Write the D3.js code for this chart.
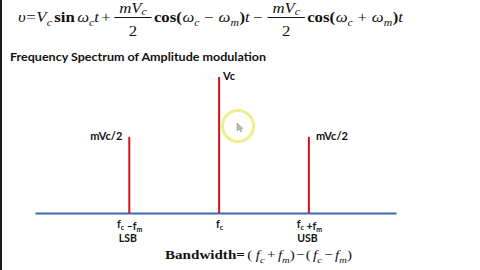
<!DOCTYPE html>
<html>
<head>
<meta charset="utf-8">
<script src="https://cdn.jsdelivr.net/npm/d3@7"></script>
<style>
  body { margin: 0; background: #fff; }
  svg { display: block; }
</style>
</head>
<body>
<svg id="chart" width="480" height="270"></svg>
<script>
// Spectrum data: offset from carrier (in units of fm) and relative amplitude (Vc = 1)
const freqs = [-1, 0, 1];
const amps = [0.56, 1, 0.56];
const ampLabels = ["mVc/2", "Vc", "mVc/2"];
// tick labels, "_x" marks a one-letter subscript
const tickLabels = ["f_c \u2013f_m", "f_c", "f_c +f_m"];
const bandLabels = ["LSB", "", "USB"];
const titleText = "Frequency Spectrum of Amplitude modulation";

const width = 480;
const height = 270;
const svg = d3.select("#chart");

const serif = "'Liberation Serif', 'Times New Roman', serif";
const sans = "Lato, 'Open Sans', sans-serif";

// left frame edge
svg.append("rect")
    .attr("x", 0).attr("y", 0)
    .attr("width", 2).attr("height", height)
    .attr("fill", "#1a1a1a");

// Scales
const xScale = d3.scaleLinear().domain([-2.05, 1.97]).range([35, 396]);
const yScale = d3.scaleLinear().domain([0, 1]).range([213, 77]);

// ---- equation helpers ----
function seg(g, x, y, s, size) {
    const sub = s.sub !== undefined;
    const t = g.append("text")
        .attr("x", x)
        .attr("y", sub ? y + (s.dy !== undefined ? s.dy : size * 0.28) : y)
        .style("font-family", serif)
        .style("font-size", (sub ? size * 0.7 : size) + "px")
        .style("font-style", s.st === "i" ? "italic" : "normal")
        .style("font-weight", s.st === "b" ? "bold" : "normal")
        .style("fill", "#111")
        .text(sub ? s.sub : s.t);
    return t.node().getComputedTextLength();
}

function run(g, segs, x0, y, size) {
    let x = x0;
    segs.forEach(s => {
        if (s.sp) { x += s.sp; return; }
        if (s.frac) {
            const tmp = g.append("g");
            const nw = run(tmp, s.frac, 0, y - 9, size);
            tmp.remove();
            const tmp2 = g.append("g");
            const dw = run(tmp2, s.den, 0, y + 14, size);
            tmp2.remove();
            const w = Math.max(nw, dw) + 10;
            run(g, s.frac, x + (w - nw) / 2, y - 9, size);
            run(g, s.den, x + (w - dw) / 2, y + 14, size);
            g.append("line")
                .attr("x1", x + 1).attr("x2", x + w - 1)
                .attr("y1", y - 4.5).attr("y2", y - 4.5)
                .attr("stroke", "#111").attr("stroke-width", 0.9);
            x += w + 1;
            return;
        }
        x += seg(g, x, y, s, size);
    });
    return x - x0;
}

function fitGroup(segs, left, right, y, size) {
    const g = svg.append("g");
    const inner = g.append("g");
    const w = run(inner, segs, 0, y, size);
    inner.attr("transform", `translate(${left},0) scale(${(right - left) / w},1)`);
}

// Top equation
const fracSegs = [{ t: "mV", st: "i" }, { sub: "c", st: "i", dy: 2 }];
const eqSegs = [
    { t: "\u03c5", st: "i" }, { sp: 0.5 }, { t: "=" }, { sp: 0.5 },
    { t: "V", st: "i" }, { sub: "c", st: "i" }, { sp: 2 },
    { t: "sin", st: "b" }, { sp: 2 },
    { t: "\u03c9", st: "i" }, { sub: "c", st: "i" }, { t: "t", st: "i" }, { sp: 2 },
    { t: "+" }, { sp: 2 },
    { frac: fracSegs, den: [{ t: "2" }] },
    { t: "cos(", st: "b" }, { sp: 0.5 }, { t: "\u03c9", st: "i" }, { sub: "c", st: "i" }, { sp: 4 },
    { t: "\u2212" }, { sp: 4 }, { t: "\u03c9", st: "i" }, { sub: "m", st: "i" }, { sp: 0.5 }, { t: ")", st: "b" }, { t: "t", st: "i" }, { sp: 3 },
    { t: "\u2212" }, { sp: 3 },
    { frac: fracSegs, den: [{ t: "2" }] },
    { t: "cos(", st: "b" }, { sp: 0.5 }, { t: "\u03c9", st: "i" }, { sub: "c", st: "i" }, { sp: 4 },
    { t: "+" }, { sp: 4 }, { t: "\u03c9", st: "i" }, { sub: "m", st: "i" }, { sp: 0.5 }, { t: ")", st: "b" }, { t: "t", st: "i" }
];
fitGroup(eqSegs, 18, 403, 22, 14);

// Title
svg.append("text")
    .attr("x", 10)
    .attr("y", 61)
    .attr("textLength", 256)
    .attr("lengthAdjust", "spacingAndGlyphs")
    .style("font-family", sans)
    .style("font-size", "12px")
    .style("font-weight", "bold")
    .style("fill", "#111")
    .text(titleText);

// Frequency axis line
const xAxis = d3.axisBottom(xScale)
    .tickValues(freqs)
    .tickSize(0)
    .tickSizeOuter(0)
    .tickFormat("");

const axisG = svg.append("g")
    .attr("transform", `translate(0,${yScale(0)})`)
    .call(xAxis);
axisG.select(".domain")
    .attr("stroke", "#3d6bb3")
    .attr("stroke-width", 2);

// tick labels with subscripts
axisG.selectAll(".tick").each(function (d, i) {
    const tick = d3.select(this);
    const label = tick.append("text")
        .attr("y", 15)
        .attr("text-anchor", "middle")
        .style("font-family", sans)
        .style("font-size", "10.5px")
        .style("font-weight", "bold")
        .style("fill", "#111");
    tickLabels[i].split(/(_.)/).filter(p => p).forEach(p => {
        if (p[0] === "_") {
            label.append("tspan").attr("dy", 2).style("font-size", "7px").text(p[1]);
            label.append("tspan").attr("dy", -2).text("");
        } else {
            label.append("tspan").text(p);
        }
    });
    if (bandLabels[i]) {
        tick.append("text")
            .attr("y", 29)
            .attr("x", -2)
            .attr("text-anchor", "middle")
            .style("font-family", sans)
            .style("font-size", "10.5px")
            .style("font-weight", "bold")
            .style("fill", "#111")
            .text(bandLabels[i]);
    }
});

// Spectral lines
svg.selectAll(".stem")
    .data(freqs)
    .join("line")
    .attr("class", "stem")
    .attr("x1", d => xScale(d))
    .attr("x2", d => xScale(d))
    .attr("y1", yScale(0))
    .attr("y2", (d, i) => yScale(amps[i]))
    .attr("stroke", "#d8121c")
    .attr("stroke-width", 2);

// Amplitude labels
svg.selectAll(".amp")
    .data(freqs)
    .join("text")
    .attr("class", "amp")
    .attr("x", d => d < 0 ? xScale(d) - 7 : xScale(d) + (d === 0 ? 4 : 7))
    .attr("y", (d, i) => yScale(amps[i]) + 3)
    .attr("text-anchor", d => d < 0 ? "end" : "start")
    .style("font-family", sans)
    .style("font-size", "11px")
    .style("font-weight", "bold")
    .style("fill", "#111")
    .text((d, i) => ampLabels[i]);

// Bandwidth formula
const bwSegs = [
    { t: "Bandwidth=", st: "b" }, { sp: 2 }, { t: "(" }, { sp: 3 },
    { t: "f", st: "i" }, { sub: "c", st: "i" }, { sp: 2 }, { t: "+" }, { sp: 2 },
    { t: "f", st: "i" }, { sub: "m", st: "i" }, { t: ")" }, { sp: 1 }, { t: "\u2212" }, { sp: 1 },
    { t: "(" }, { sp: 2 }, { t: "f", st: "i" }, { sub: "c", st: "i" }, { sp: 2 }, { t: "\u2212" }, { sp: 2 },
    { t: "f", st: "i" }, { sub: "m", st: "i" }, { t: ")" }
];
fitGroup(bwSegs, 165, 352, 259, 13);

// Pointer highlight (screen capture cursor)
const cursor = svg.append("g").attr("transform", "translate(238,126)");
cursor.append("circle")
    .attr("r", 15.5)
    .attr("fill", "none")
    .attr("stroke", "#efef8a")
    .attr("stroke-width", 3);
cursor.append("path")
    .attr("d", "M-1,-3 L-1,5 L1,3 L3,6 L4,5.5 L2.5,2.5 L5,2.5 Z")
    .attr("fill", "#bbb")
    .attr("stroke", "#888")
    .attr("stroke-width", 0.5);
</script>
</body>
</html>
